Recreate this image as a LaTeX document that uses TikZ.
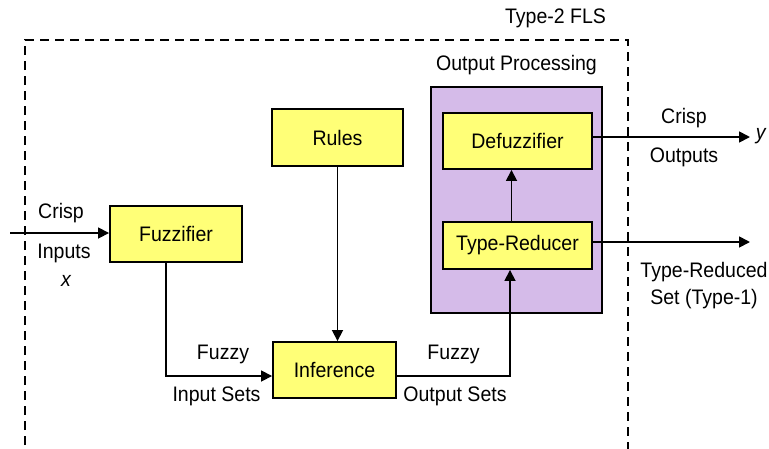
\documentclass[tikz,border=0pt]{standalone}
\usepackage{fontspec}
\setmainfont{Liberation Sans}[FakeStretch=0.93]
\usetikzlibrary{arrows.meta}
\definecolor{boxyellow}{HTML}{FFFF77}
\definecolor{boxpurple}{HTML}{D5BBE9}
\begin{document}
\begin{tikzpicture}[x=1pt,y=-1pt,
  font=\fontsize{21}{24}\selectfont,
  line width=1.8pt,
  blockbox/.style={draw=black, fill=boxyellow, line width=1.9pt, inner sep=0pt},
  arr/.style={line width=1.7pt, -{Triangle[length=11pt,width=11pt]}},
  lbl/.style={inner sep=0pt, anchor=center}]
\useasboundingbox (0,0) rectangle (769,448);
\clip (0,0) rectangle (769,448);
\fill[white] (0,0) rectangle (769,448);
% dashed outer box
\draw[dash pattern=on 9pt off 6pt, line width=1.6pt] (25,460) -- (25,40) -- (628,40) -- (628,460);
\node[lbl] (t2) at (555.5,18) {Type-2 FLS};
% output processing
\node[lbl] (op) at (516.5,65) {Output Processing};
\node[draw=black, fill=boxpurple, line width=1.9pt, minimum width=171pt, minimum height=226pt, inner sep=0pt] (purple) at (516.5,200) {};
% blocks
\node[blockbox, minimum width=132pt, minimum height=56pt] (fuzz) at (176,234) {Fuzzifier};
\node[blockbox, minimum width=131pt, minimum height=57pt] (rules) at (337.5,137.5) {Rules};
\node[blockbox, minimum width=123pt, minimum height=56pt] (inf) at (334.5,370) {Inference};
\node[blockbox, minimum width=149pt, minimum height=56pt] (defuzz) at (517.5,141) {Defuzzifier};
\node[blockbox, minimum width=149pt, minimum height=47pt] (tr) at (517.5,245.5) {Type-Reducer};
% end points
\coordinate (inp) at (10,233);
\coordinate (yend) at (750,137);
\node[lbl, anchor=west, font=\fontsize{21}{24}\selectfont\itshape] (yout) at (755,136) {y};
\coordinate (trout) at (750,242);
% connectors
\draw[arr] (inp) -- (inp -| fuzz.west);
\draw[arr] ([xshift=-10pt]fuzz.south) |- ([yshift=-6pt]inf.west);
\draw[arr] (rules.south) -- (rules.south |- inf.north);
\draw[arr] ([yshift=-6pt]inf.east) -| ([xshift=-7.5pt]tr.south);
\draw[arr] ([xshift=-6pt]tr.north) -- ([xshift=-6pt]defuzz.south);
\draw[arr] (defuzz.east |- yend) -- (yend);
\draw[arr] (tr.east |- trout) -- (trout);
% labels
\node[lbl] (ci) at (61,213) {Crisp};
\node[lbl] (ii) at (64,253) {Inputs};
\node[lbl, font=\fontsize{21}{24}\selectfont\itshape] (xi) at (66,281) {x};
\node[lbl] (fz1) at (223,354) {Fuzzy};
\node[lbl] (is) at (216.5,396) {Input Sets};
\node[lbl] (fz2) at (453.5,354) {Fuzzy};
\node[lbl] (os) at (455,396) {Output Sets};
\node[lbl] (co) at (684,118) {Crisp};
\node[lbl] (oo) at (684,157) {Outputs};
\node[lbl] (trd) at (704,272) {Type-Reduced};
\node[lbl] (st) at (704,299) {Set (Type-1)};
\end{tikzpicture}
\end{document}
